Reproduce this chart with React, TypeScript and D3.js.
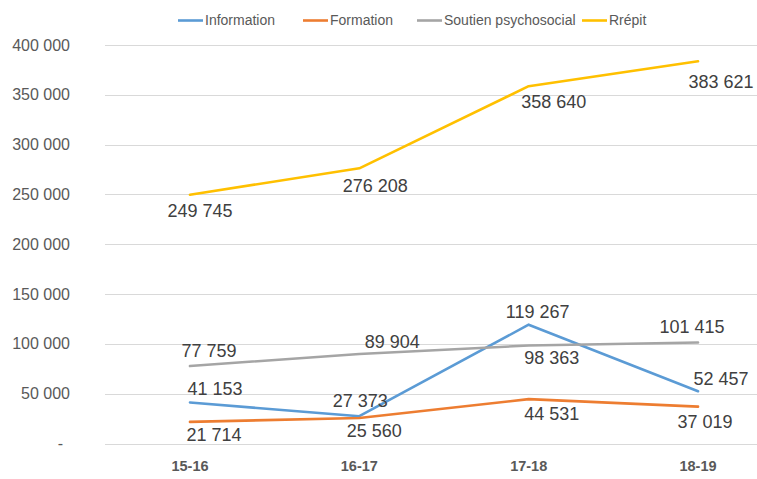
import React from "react";
import * as d3 from "d3";

const categories = ["15-16", "16-17", "17-18", "18-19"];
const seriesNames = ["Information", "Formation", "Soutien psychosocial", "Rrépit"];
const information = [41153, 27373, 119267, 52457];
const formation = [21714, 25560, 44531, 37019];
const soutien = [77759, 89904, 98363, 101415];
const repit = [249745, 276208, 358640, 383621];
const yTicks = [0, 50000, 100000, 150000, 200000, 250000, 300000, 350000, 400000];

const colors = ["#5B9BD5", "#ED7D31", "#A5A5A5", "#FFC000"];
// label nudges (dx, dy of label centre relative to point)
const nudges: [number, number][][] = [
  [[25, -14], [1, -16], [9, -13], [23, -13]],
  [[24, 13], [15, 13], [23, 15], [7, 15]],
  [[19, -15], [33, -12], [23, 12], [-6, -16]],
  [[10, 16], [16, 17], [25, 15], [23, 20]],
];
const legendX = [178, 303, 417, 582];

const W = 757;
const H = 479;
const FONT = "'Liberation Sans', Arial, sans-serif";

function fmt(v: number): string {
  if (v === 0) return "-";
  return d3.format(",")(v).replace(/,/g, " ");
}

export default function App() {
  const series = [information, formation, soutien, repit];
  const x = d3.scaleBand<string>().domain(categories).range([105.3, 782.7]).padding(0);
  const y = d3.scaleLinear().domain([0, 400000]).range([443.5, 45]);
  const cx = (c: string) => (x(c) as number) + x.bandwidth() / 2;
  const line = d3
    .line<number>()
    .x((_, i) => cx(categories[i]))
    .y((d) => y(d));

  return (
    <svg
      width={W}
      height={H}
      style={{ position: "absolute", left: 0, top: 0, background: "#fff" }}
      fontFamily={FONT}
    >
      <rect x={0} y={0} width={W} height={H} fill="#fff" />
      {yTicks.map((t) => (
        <g key={t}>
          <line x1={105} x2={W} y1={Math.round(y(t)) + 0.5} y2={Math.round(y(t)) + 0.5} stroke="#D9D9D9" strokeWidth={1} />
          <text
            x={t === 0 ? 63 : 70}
            y={y(t)}
            dy="0.35em"
            textAnchor="end"
            fontSize={16}
            fill="#595959"
          >
            {fmt(t)}
          </text>
        </g>
      ))}
      {categories.map((c) => (
        <text key={c} x={cx(c)} y={466} dy="0.35em" textAnchor="middle" fontSize={14.5} fontWeight="bold" fill="#595959">
          {c}
        </text>
      ))}
      {series.map((s, si) => (
        <path key={si} d={line(s) || ""} fill="none" stroke={colors[si]} strokeWidth={2.6} strokeLinejoin="round" strokeLinecap="round" />
      ))}
      {series.map((s, si) =>
        s.map((v, i) => (
          <text
            key={si + "-" + i}
            x={cx(categories[i]) + nudges[si][i][0]}
            y={y(v) + nudges[si][i][1]}
            dy="0.35em"
            textAnchor="middle"
            fontSize={18}
            fill="#404040"
          >
            {fmt(v)}
          </text>
        ))
      )}
      {seriesNames.map((n, i) => (
        <g key={n}>
          <line x1={legendX[i]} x2={legendX[i] + 25} y1={20.5} y2={20.5} stroke={colors[i]} strokeWidth={2.6} />
          <text x={legendX[i] + 27} y={20.5} dy="0.35em" fontSize={14} fill="#595959">
            {n}
          </text>
        </g>
      ))}
    </svg>
  );
}
